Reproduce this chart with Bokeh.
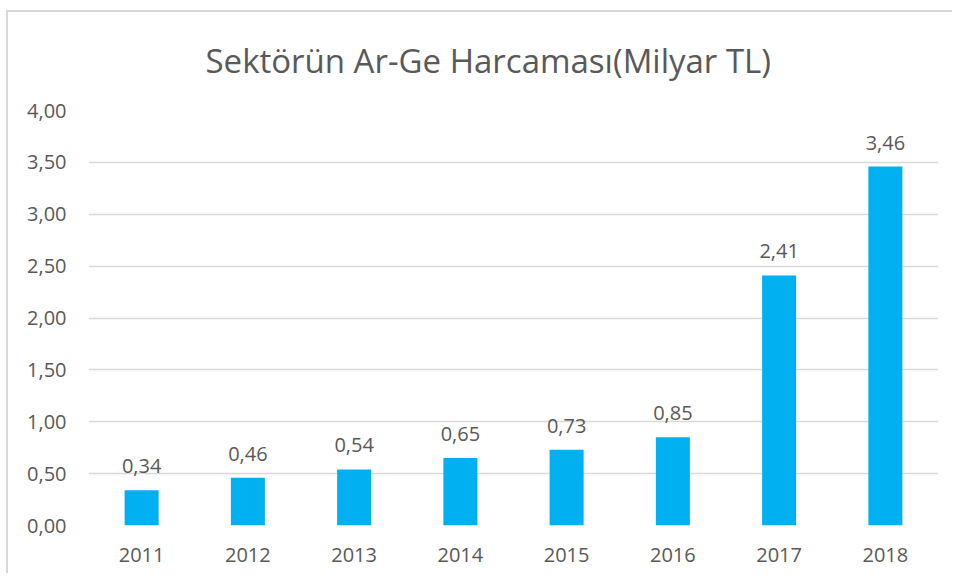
from bokeh.plotting import figure
from bokeh.models import ColumnDataSource, Range1d, CustomJSTickFormatter
from bokeh.core.properties import value
from bokeh.embed import file_html
from bokeh.resources import INLINE

years = ["2011", "2012", "2013", "2014", "2015", "2016", "2017", "2018"]
values = [0.34, 0.46, 0.54, 0.65, 0.73, 0.85, 2.41, 3.46]
labels = [f"{v:.2f}".replace(".", ",") for v in values]
y_ticks = [0.0, 0.5, 1.0, 1.5, 2.0, 2.5, 3.0, 3.5, 4.0]

TXT = "#595959"
FONT = "Open Sans"

src = ColumnDataSource(dict(x=years, top=values, lab=labels))

p = figure(x_range=years, y_range=Range1d(0, 4.0), width=946, height=563,
           output_backend="svg", toolbar_location=None,
           min_border_left=80, min_border_right=16, min_border_top=97, min_border_bottom=50)
p.styles = {"margin-left": "6px", "margin-top": "10px",
            "border-left": "2px solid #d9d9d9", "border-top": "2px solid #d9d9d9"}

p.title.text = "Sektörün Ar-Ge Harcaması(Milyar TL)"
p.title.align = "left"
p.title.vertical_align = "top"
p.title.text_font = FONT
p.title.text_font_size = "33px"
p.title.text_font_style = "normal"
p.title.text_color = TXT
p.title.offset = 117
p.title.standoff = 51

p.vbar(x="x", top="top", width=0.32, source=src, color="#00B0F0", line_color=None)
p.text(x="x", y="top", text="lab", source=src, text_align="center", text_baseline="bottom",
       y_offset=-17, text_font=value(FONT), text_font_size="20px", text_color=TXT)

p.outline_line_color = None
p.xgrid.grid_line_color = None
p.ygrid.grid_line_color = "#d9d9d9"
p.ygrid.grid_line_width = 1.5
p.yaxis.ticker = y_ticks
p.yaxis.formatter = CustomJSTickFormatter(code="return tick.toFixed(2).replace('.', ',');")
for ax in (p.xaxis[0], p.yaxis[0]):
    ax.axis_line_color = None
    ax.major_tick_line_color = None
    ax.minor_tick_line_color = None
    ax.major_label_text_font = FONT
    ax.major_label_text_font_size = "20px"
    ax.major_label_text_color = TXT
p.yaxis.major_label_standoff = 16
p.xaxis.major_label_standoff = 16

open("out.html", "w").write(file_html(p, INLINE))
